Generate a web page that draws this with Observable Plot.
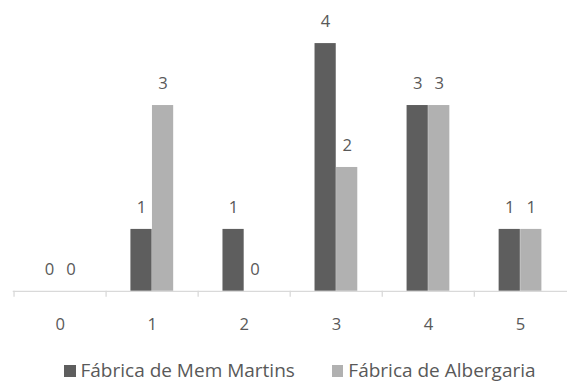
<!DOCTYPE html>
<html>
<head>
<meta charset="utf-8">
<script src="https://cdn.jsdelivr.net/npm/d3@7"></script>
<script src="https://cdn.jsdelivr.net/npm/@observablehq/plot@0.6"></script>
<style>
  html, body { margin: 0; padding: 0; background: #fff; }
  #wrap { width: 568px; height: 383px; overflow: hidden; position: relative; }
  #legend {
    position: absolute; left: 64px; top: 360px;
    display: flex; align-items: center;
    font-family: "Open Sans", sans-serif; font-size: 19px; color: #595959;
    height: 20px; line-height: 20px; white-space: nowrap;
  }
  #legend .item { display: flex; align-items: center; margin-right: 37px; }
  #legend .sw { width: 11.5px; height: 11.5px; margin-right: 5px; position: relative; top: 1px; }
</style>
</head>
<body>
<div id="wrap">
  <div id="chart"></div>
  <div id="legend"></div>
</div>
<script>
// Number of occurrences per class, for each factory
const categories = ["0", "1", "2", "3", "4", "5"];
const seriesNames = ["Fábrica de Mem Martins", "Fábrica de Albergaria"];
const memMartins = [0, 1, 1, 4, 3, 1];
const albergaria = [0, 3, 0, 2, 3, 1];
const colors = ["#5e5e5e", "#b1b1b1"];

const rows = [];
categories.forEach((c, i) => {
  rows.push({cat: c, series: seriesNames[0], value: memMartins[i]});
  rows.push({cat: c, series: seriesNames[1], value: albergaria[i]});
});
const dark = rows.filter(d => d.series === seriesNames[0]);
const light = rows.filter(d => d.series === seriesNames[1]);

const W = 580, mL = 13, mR = 1;
const step = (W - mL - mR) / categories.length;
const barW = 22;
const textColor = "#595959";
const font = "Open Sans, sans-serif";

const chart = Plot.plot({
  width: W,
  height: 345,
  marginLeft: mL,
  marginRight: mR,
  marginTop: 44,
  marginBottom: 48,
  style: {fontFamily: font, color: textColor, background: "#fff"},
  x: {domain: categories, padding: 0, label: null},
  y: {domain: [0, 4], axis: null},
  marks: [
    Plot.axisX({tickSize: 0, tickPadding: 27, fontSize: 17, fill: textColor, label: null}),
    Plot.barY(dark, {x: "cat", y: "value", fill: colors[0], insetLeft: step / 2 - barW, insetRight: step / 2}),
    Plot.barY(light, {x: "cat", y: "value", fill: colors[1], insetLeft: step / 2, insetRight: step / 2 - barW}),
    Plot.ruleY([0], {stroke: "#d9d9d9", strokeWidth: 1.3}),
    Plot.ruleX(categories, {x: d => d, dx: -step / 2, y1: 0, y2: 0, insetBottom: -6, stroke: "#d9d9d9", strokeWidth: 1.3}),
    Plot.text(dark, {x: "cat", y: "value", text: d => String(d.value), dx: -barW / 2, dy: -22, fontSize: 17, fill: textColor}),
    Plot.text(light, {x: "cat", y: "value", text: d => String(d.value), dx: barW / 2, dy: -22, fontSize: 17, fill: textColor})
  ]
});
document.getElementById("chart").appendChild(chart);

const legend = document.getElementById("legend");
seriesNames.forEach((name, i) => {
  const item = document.createElement("div");
  item.className = "item";
  const sw = document.createElement("span");
  sw.className = "sw";
  sw.style.background = colors[i];
  const label = document.createElement("span");
  label.textContent = name;
  item.appendChild(sw);
  item.appendChild(label);
  legend.appendChild(item);
});
</script>
</body>
</html>
